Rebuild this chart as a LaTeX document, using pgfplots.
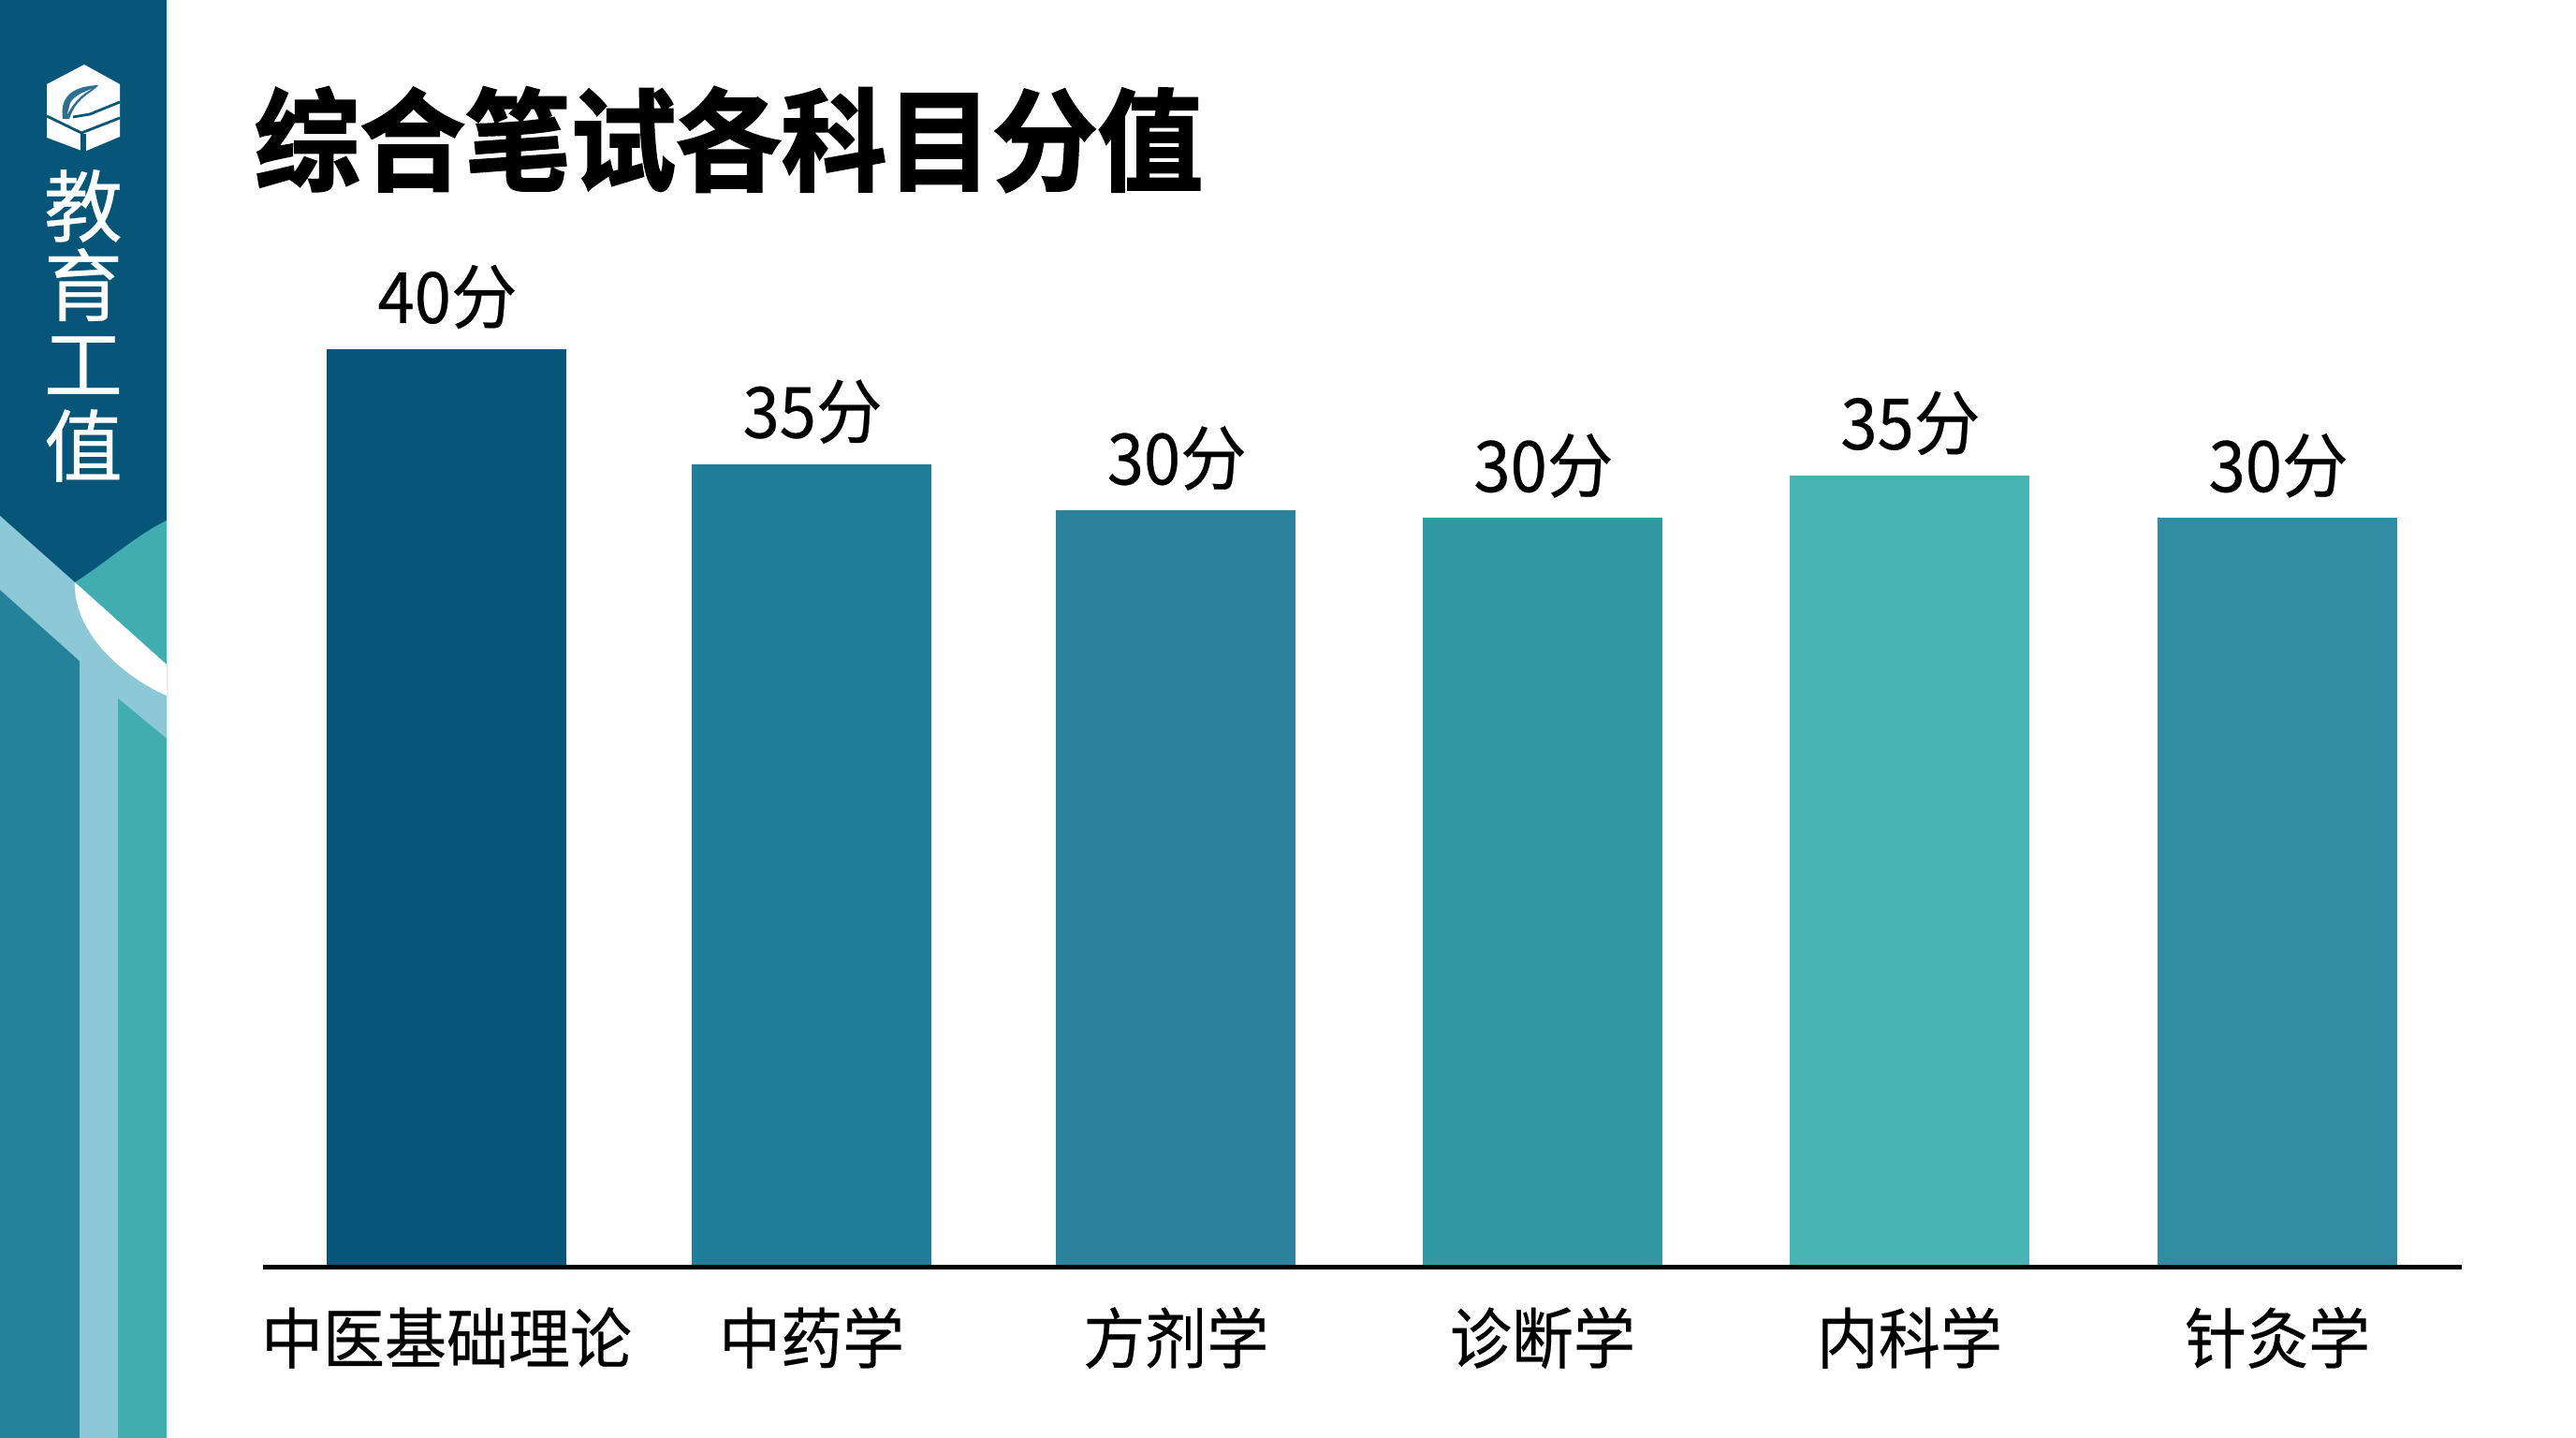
\documentclass[border=0pt]{standalone}
\usepackage{fontspec}
\setmainfont{Noto Sans CJK SC}
\newfontfamily\titlefont[FakeBold=2]{Noto Sans CJK SC Bold}
\newfontfamily\medfont[FakeBold=0.35]{Noto Sans CJK SC}
\usepackage{pgfplots}
\pgfplotsset{compat=1.18}
\definecolor{cDark}{HTML}{07567A}
\definecolor{cBlue}{HTML}{24829B}
\definecolor{cLight}{HTML}{8CC8D5}
\definecolor{cTeal}{HTML}{42ADB1}
\definecolor{cEdge}{HTML}{DDF3F5}
\definecolor{b1}{HTML}{07567A}
\definecolor{b2}{HTML}{1F7F99}
\definecolor{b3}{HTML}{2A829D}
\definecolor{b4}{HTML}{2F98A0}
\definecolor{b5}{HTML}{47B3B3}
\definecolor{b6}{HTML}{308DA3}
\newcommand{\tl}[1]{\scalebox{1}[1.07]{#1}}
\begin{document}
\begin{tikzpicture}
\useasboundingbox (0,0) rectangle (1376pt,768pt);
\fill[white] (0,0) rectangle (1376pt,768pt);
% picture frame in reference pixels, y down from the top
\begin{scope}[x=0.5pt,y=-0.5pt,yshift=768pt]
  \fill[cDark] (0,0) rectangle (178,1536);
  \fill[cTeal] (80,622) .. controls (112,602) and (145,572) .. (178,556) -- (178,1536) -- (80,1536) -- cycle;
  \fill[cBlue] (0,630) -- (85,706) -- (85,1536) -- (0,1536) -- cycle;
  \fill[cLight] (0,551) -- (80,622) -- (178,710) -- (178,789) -- (126,746) -- (126,1536) -- (85,1536) -- (85,706) -- (0,630) -- cycle;
  \fill[white] (80,622) -- (178,710) -- (178,743) .. controls (130,722) and (78,675) .. (80,622) -- cycle;
  \fill[cTeal] (126,746) -- (178,789) -- (178,1536) -- (126,1536) -- cycle;
  \fill[cEdge] (178,0) rectangle (180,1536);
  % logo
  \fill[white] (90,69) -- (128,90) -- (128,146) -- (90,162) -- (50,147) -- (50,90) -- cycle;
  \fill[cDark] (86,143) rectangle (92,163);
  \draw[cDark,line width=1.4pt] (50,124) -- (87,142) -- (128,126);
  \draw[cDark,line width=1.4pt] (128,109) -- (96,122) -- (78,125);
  \fill[cDark!85!white] (67,127) .. controls (63,100) and (82,92) .. (105,91)
     .. controls (98,100) and (82,103) .. (74,127) -- cycle;
  \fill[white] (75,110) .. controls (80,102) and (88,99) .. (98,95)
     .. controls (90,100) and (82,104) .. (72,122) -- cycle;
  % wordmark
  \node[white,font=\medfont\fontsize{42pt}{42pt}\selectfont,inner sep=0pt] at (89,220) {教};
  \node[white,font=\medfont\fontsize{42pt}{42pt}\selectfont,inner sep=0pt] at (89,304) {育};
  \node[white,font=\medfont\fontsize{42pt}{42pt}\selectfont,inner sep=0pt] at (89,390) {工};
  \node[white,font=\medfont\fontsize{42pt}{42pt}\selectfont,inner sep=0pt] at (89,476) {值};
  % title
  \node[black,font=\titlefont\fontsize{56.3pt}{56.3pt}\selectfont,inner sep=0pt,anchor=center] at (778.5,149) {\scalebox{1}[1.05]{综合笔试各科目分值}};
\end{scope}
\begin{axis}[
  at={(140.5pt,91pt)},anchor=south west,
  scale only axis,width=1174.5pt,height=490.5pt,
  xmin=-0.501,xmax=5.5036,ymin=0,ymax=40,
  axis x line*=bottom,axis y line=none,
  axis on top=true,
  axis line style={line width=2.5pt,black,-},
  xtick={0,0.997,1.992,2.993,3.995,5},
  xticklabels={\tl{中医基础理论},\tl{中药学},\tl{方剂学},\tl{诊断学},\tl{内科学},\tl{针灸学}},
  major tick length=0pt,
  xticklabel style={font=\medfont\fontsize{33pt}{33pt}\selectfont,text=black,inner sep=0pt,anchor=base,yshift=-51pt},
  ybar,bar width=128pt,bar shift=0pt,
  point meta=explicit symbolic,
  nodes near coords={\tl{\pgfplotspointmeta}},
  every node near coord/.append style={font=\medfont\fontsize{35.3pt}{35.3pt}\selectfont,text=black,inner sep=0pt,anchor=base,yshift=14pt,xshift=0.5pt},
  clip=false,
]
% bar heights are as drawn in the picture; the printed scores are the point labels
\addplot[fill=b1,draw=none] coordinates {(0,40)[40分]};
\addplot[fill=b2,draw=none] coordinates {(0.997,35.0)[35分]};
\addplot[fill=b3,draw=none] coordinates {(1.992,32.97)[30分]};
\addplot[fill=b4,draw=none] coordinates {(2.993,32.65)[30分]};
\addplot[fill=b5,draw=none] coordinates {(3.995,34.5)[35分]};
\addplot[fill=b6,draw=none] coordinates {(5,32.65)[30分]};
\end{axis}
\end{tikzpicture}
\end{document}
